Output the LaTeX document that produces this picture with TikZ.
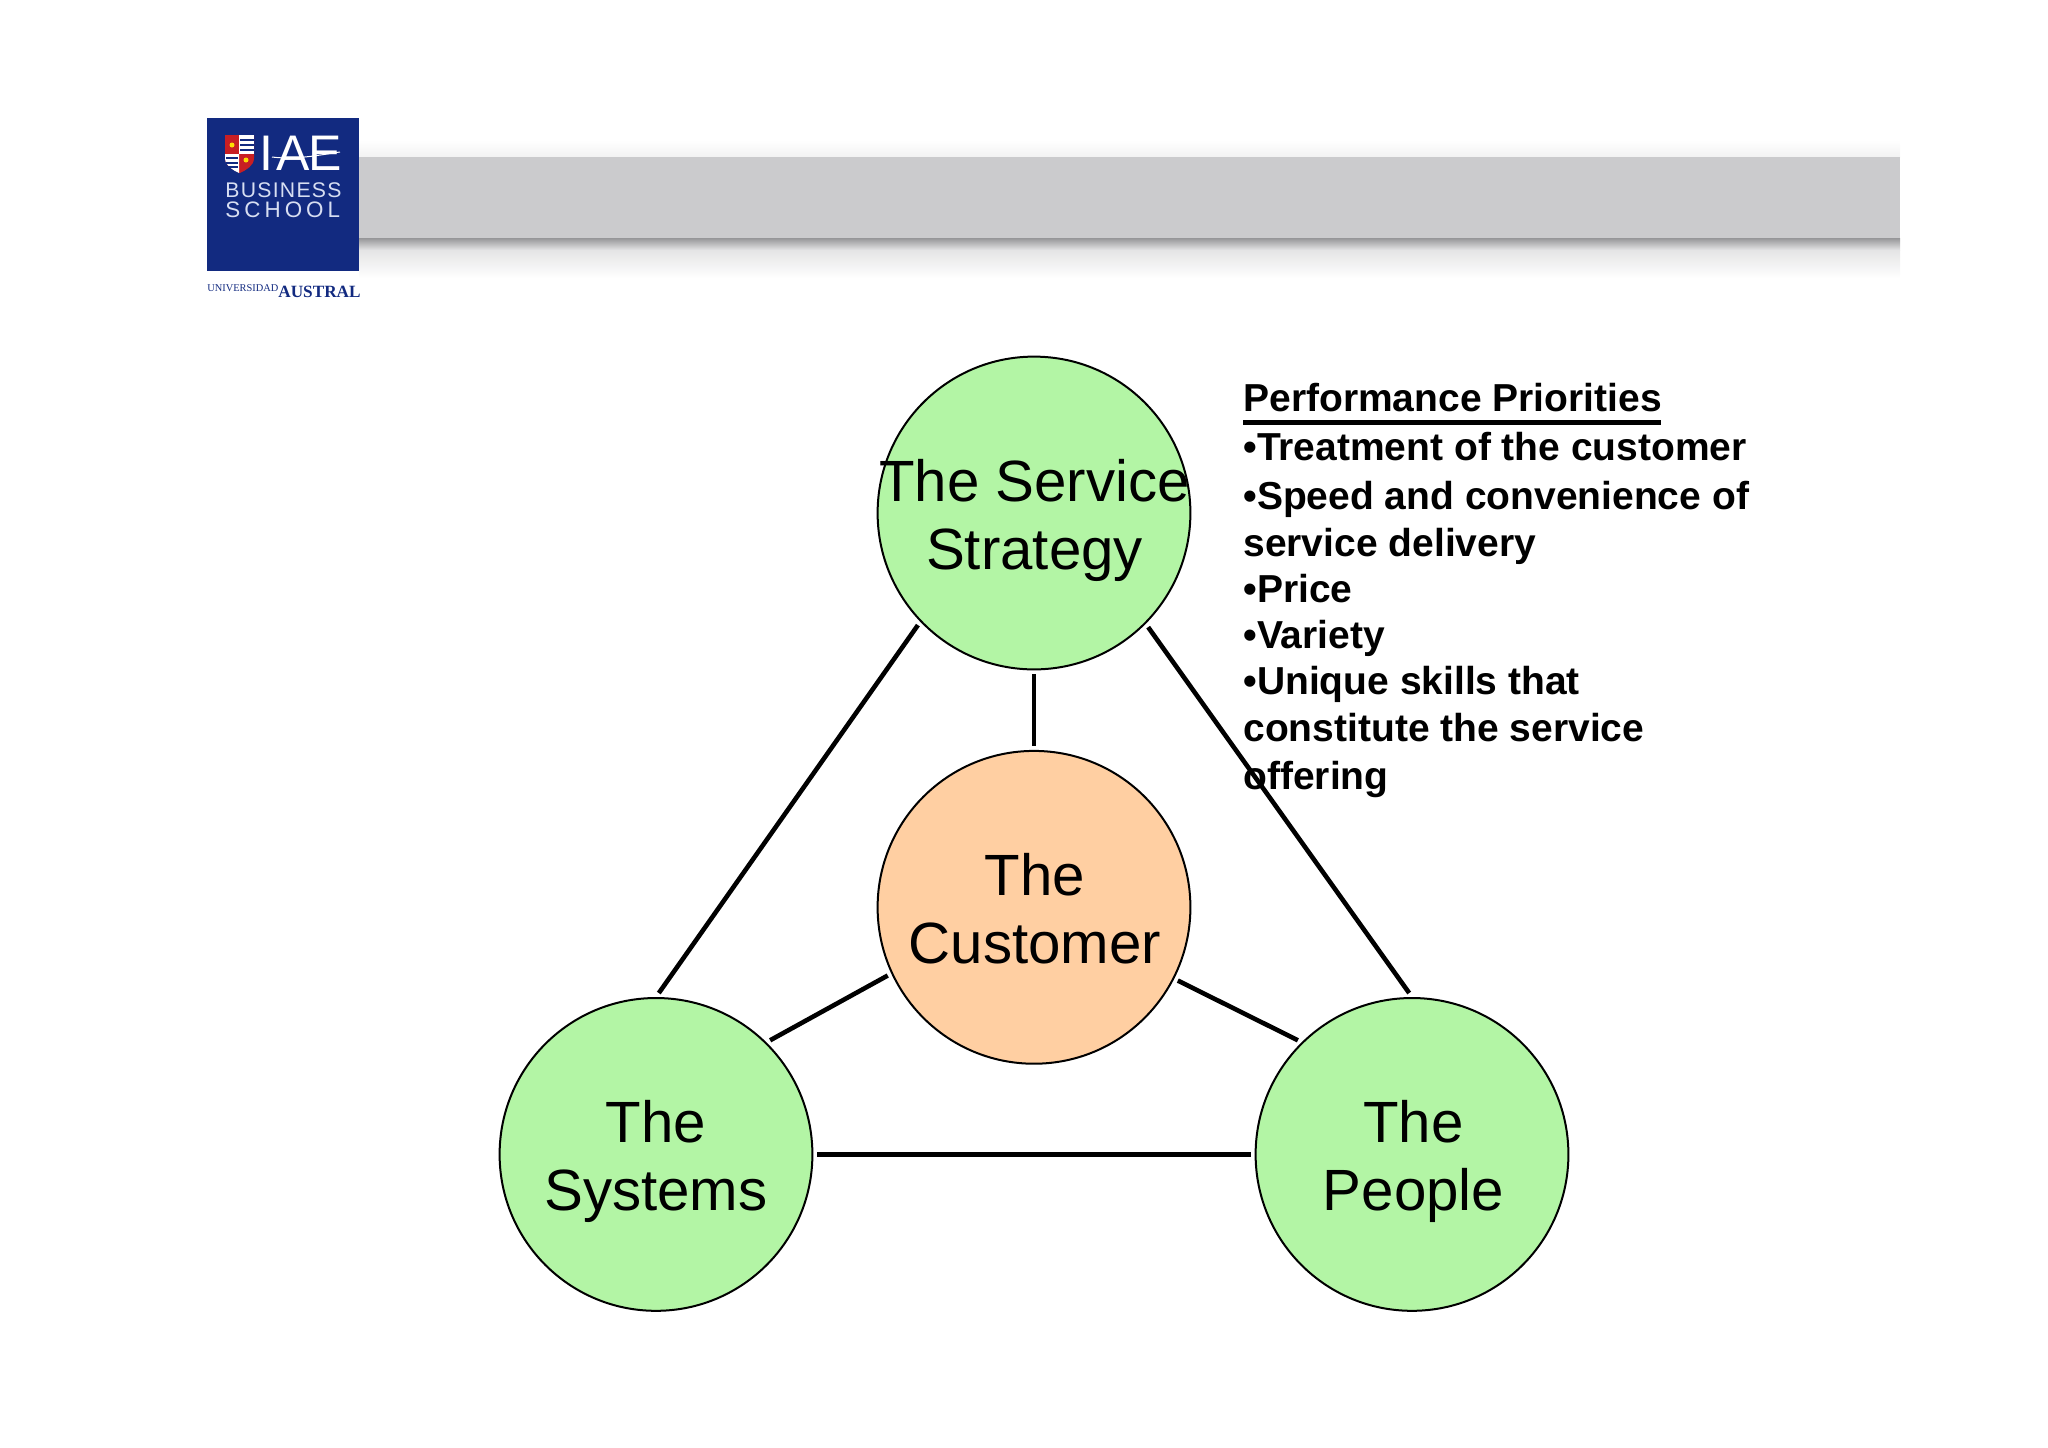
\documentclass[tikz,border=0pt]{standalone}
\usepackage{fontspec}
\setmainfont{Liberation Sans}
\newfontfamily\logosans[LetterSpace=18]{Liberation Sans}
\newfontfamily\logosanb[LetterSpace=6]{Liberation Sans}
\newfontfamily\logoserif{Liberation Serif}
\usetikzlibrary{shadings}
\definecolor{bandgray}{RGB}{203,203,205}
\definecolor{shadegray}{RGB}{150,150,152}
\definecolor{shademid}{RGB}{228,228,229}
\definecolor{hubgreen}{RGB}{179,245,165}
\definecolor{hubpeach}{RGB}{255,207,162}
\definecolor{logoblue}{RGB}{18,42,128}
\definecolor{logored}{RGB}{200,30,35}
\definecolor{logopale}{RGB}{215,222,242}
\tikzset{
  x=0.5pt,y=-0.5pt,
  hub/.style={circle,draw=black,line width=1pt,minimum size=156.4pt,inner sep=0pt,outer sep=2.5pt},
  hublabel/.style={align=center,font=\fontsize{29.1}{34}\selectfont,text=black,inner sep=0pt},
  link/.style={draw=black,line width=2.3pt},
  prio/.style={anchor=base west,inner sep=0pt,font=\fontsize{19.5}{22}\selectfont\bfseries,text=black},
  logotext/.style={inner sep=0pt,text=logopale},
}
\begin{document}
\begin{tikzpicture}
\useasboundingbox (0,0) rectangle (2048,1447);
% band
\shade[top color=white,bottom color=black!5] (359,140) rectangle (1900,157);
\fill[bandgray] (359,157) rectangle (1900,238);
\shade[top color=shadegray,bottom color=shademid] (359,238) rectangle (1900,250);
\shade[top color=shademid,bottom color=white] (359,250) rectangle (1900,278);
% logo
\fill[logoblue] (207,118) rectangle (359,271);
\fill[logored] (225,135) -- (254,135) -- (254,158) .. controls (254,166) and (246,170) .. (240,173) .. controls (233,170) and (225,166) .. (225,158) -- cycle;
\fill[white] (239,135) rectangle (254,154);
\fill[white] (225,154) -- (239,154) -- (239,173) .. controls (233,170) and (225,166) .. (225,158) -- cycle;
\foreach \yy in {140,145,150}{\draw[logoblue,line width=0.6pt] (240,\yy) -- (254,\yy);}
\foreach \yy in {158,163,167}{\draw[logoblue,line width=0.6pt] (226,\yy) -- (238,\yy);}
\fill[yellow!80!orange] (232,145) circle (2.5);
\fill[yellow!80!orange] (246,160) circle (2.5);
\node[logotext,anchor=base west,text=white] (iae) at (259,170) {\fontsize{25}{25}\selectfont I\kern1.5pt A\kern-0.5pt E};
\node[logotext,anchor=base west] (biz) at (225,197) {\logosanb\fontsize{10.6}{12}\selectfont BUSINESS};
\node[logotext,anchor=base west] (sch) at (225,217) {\logosans\fontsize{11.2}{12}\selectfont SCHOOL};
\draw[white,line width=0.5pt] (272,157) .. controls (295,160) and (320,155) .. (340,152);
\node[inner sep=0pt,anchor=base west,text=logoblue] (uni) at (207,291) {\logoserif\fontsize{5.2}{6}\selectfont UNIVERSIDAD};
\node[inner sep=0pt,anchor=base west,text=logoblue] (aus) at (278,297) {\logoserif\bfseries\fontsize{8.6}{10}\selectfont AUSTRAL};
% hubs
\node[hub,fill=hubgreen] (top) at (1034,513) {};
\node[hub,fill=hubpeach] (cust) at (1034,907.3) {};
\node[hub,fill=hubgreen] (sys) at (656,1154.4) {};
\node[hub,fill=hubgreen] (peo) at (1412,1154.4) {};
\node[hublabel] (topl) at (1034.5,520.7) {The Service\\Strategy};
\node[hublabel] (custl) at (1035,909) {The\\Customer};
\node[hublabel] (sysl) at (656,1161.4) {The\\Systems};
\node[hublabel] (peol) at (1413.5,1161.4) {The\\People};
% links
\draw[link] (top.224) -- (sys.89.5);
\draw[link] (top.-45) -- (peo.91);
\draw[link] (top.-90) -- (cust.90);
\draw[link] (cust.205.5) -- (sys.45);
\draw[link] (cust.-27) -- (peo.135);
\draw[link] (sys.0) -- (peo.180);
% priorities
\node[prio] (p0) at (1243,411.5) {Performance Priorities};
\node[prio] (p1) at (1243,460.5) {•Treatment of the customer};
\node[prio] (p2) at (1243,509.5) {•Speed and convenience of};
\node[prio] (p3) at (1243,556) {service delivery};
\node[prio] (p4) at (1243,602) {•Price};
\node[prio] (p5) at (1243,648) {•Variety};
\node[prio] (p6) at (1243,694) {•Unique skills that};
\node[prio] (p7) at (1243,741) {constitute the service};
\node[prio] (p8) at (1243,789) {offering};
\coordinate (ula) at (1243,422.5);
\coordinate (ulb) at (1661,422.5);
\draw[black,line width=2.3pt] (ula) -- (ulb);
\end{tikzpicture}
\end{document}
